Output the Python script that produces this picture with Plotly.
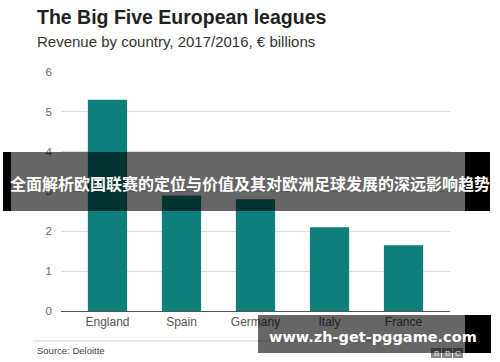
import plotly.graph_objects as go

countries = ["England", "Spain", "Germany", "Italy", "France"]
revenue = [5.3, 2.9, 2.8, 2.1, 1.65]
y_ticks = [0, 1, 2, 3, 4, 5, 6]

W, H = 500, 362
L, R, T, B = 61, 50, 71, 51
PW, PH = W - L - R, H - T - B


def px(x):
    return (x - L) / PW


def py(y):
    return (H - B - y) / PH


fig = go.Figure()
fig.add_trace(go.Bar(
    x=countries, y=revenue, marker_color="#0e7f7a", width=0.53,
    marker_line_width=0, hoverinfo="skip"))

font = "Liberation Sans, Arial, Helvetica, sans-serif"

fig.update_layout(
    width=W, height=H,
    margin=dict(l=L, r=R, t=T, b=B, pad=0),
    paper_bgcolor="white", plot_bgcolor="white",
    showlegend=False,
    font=dict(family=font, color="#555"),
    xaxis=dict(range=[-0.628, 4.628], showgrid=False, zeroline=False,
               showline=False, ticks="", tickfont=dict(size=12, color="#555"),
               ticklabelstandoff=2, fixedrange=True),
    yaxis=dict(range=[0, 6.02], tickvals=y_ticks, showgrid=True,
               gridcolor="#dcdcdc", gridwidth=1, zeroline=True,
               zerolinecolor="#555", zerolinewidth=1.2, showline=False,
               ticks="", tickfont=dict(size=11.5, color="#666"),
               ticklabelstandoff=8, fixedrange=True),
)

ann = []
ann.append(dict(text="<b>The Big Five European leagues</b>", x=px(35), y=py(17),
                xref="paper", yref="paper", xanchor="left", yanchor="middle",
                showarrow=False, font=dict(size=19.5, color="#222", family=font)))
ann.append(dict(text="Revenue by country, 2017/2016, € billions", x=px(35), y=py(41),
                xref="paper", yref="paper", xanchor="left", yanchor="middle",
                showarrow=False, font=dict(size=15, color="#333", family=font)))
ann.append(dict(text="Source: Deloitte", x=px(35), y=py(350),
                xref="paper", yref="paper", xanchor="left", yanchor="middle",
                showarrow=False, font=dict(size=9.5, color="#444", family=font)))

shapes = []
# source separator line
shapes.append(dict(type="line", xref="paper", yref="paper", x0=px(33), x1=px(450),
                   y0=py(341), y1=py(341), line=dict(color="#cfcfcf", width=1),
                   layer="above"))
# BBC logo blocks
for i, letter in enumerate(["B", "B", "C"]):
    x0 = 431 + i * 11
    shapes.append(dict(type="rect", xref="paper", yref="paper", x0=px(x0), x1=px(x0 + 10),
                       y0=py(358), y1=py(348), fillcolor="#8a8a8a", line=dict(width=0),
                       layer="above"))
    ann.append(dict(text=letter, x=px(x0 + 5), y=py(353), xref="paper", yref="paper",
                    xanchor="center", yanchor="middle",
                    showarrow=False, font=dict(size=8, color="#e8e8e8", family=font)))

# middle banner overlay
shapes.append(dict(type="rect", xref="paper", yref="paper", x0=px(3), x1=px(11),
                   y0=py(211), y1=py(152), fillcolor="black", line=dict(width=0), layer="above"))
shapes.append(dict(type="rect", xref="paper", yref="paper", x0=px(11), x1=px(465),
                   y0=py(211), y1=py(152), fillcolor="rgba(0,0,0,0.6)", line=dict(width=0),
                   layer="above"))
shapes.append(dict(type="rect", xref="paper", yref="paper", x0=px(465), x1=px(490),
                   y0=py(211), y1=py(152), fillcolor="black", line=dict(width=0), layer="above"))
ann.append(dict(text="<b>全面解析欧国联赛的定位与价值及其对欧洲足球发展的深远影响趋势</b>",
                x=px(250), y=py(183), xref="paper", yref="paper", showarrow=False,
                xanchor="center", yanchor="middle",
                font=dict(size=16, color="white", family="Noto Sans CJK SC")))

# bottom watermark
shapes.append(dict(type="rect", xref="paper", yref="paper", x0=px(258), x1=px(465),
                   y0=py(353), y1=py(315), fillcolor="rgba(0,0,0,0.6)", line=dict(width=0),
                   layer="above"))
shapes.append(dict(type="rect", xref="paper", yref="paper", x0=px(465), x1=px(491),
                   y0=py(353), y1=py(315), fillcolor="black", line=dict(width=0), layer="above"))
ann.append(dict(text="<b>www.zh-get-pggame.com</b>", x=px(373), y=py(337),
                xref="paper", yref="paper", showarrow=False,
                xanchor="center", yanchor="middle",
                font=dict(size=14.5, color="white", family="DejaVu Sans")))

fig.update_layout(annotations=ann, shapes=shapes)
fig.write_html("out.html", config={"displayModeBar": False},
               post_script="document.body.style.margin='0';document.body.style.padding='0';")
